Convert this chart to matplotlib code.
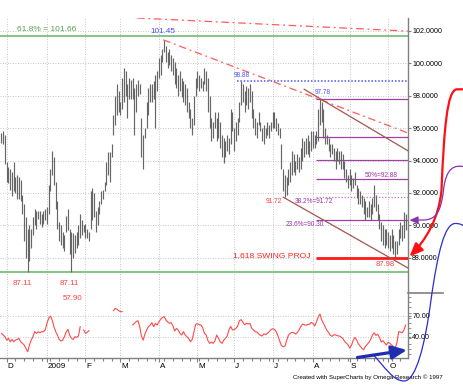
import numpy as np
import matplotlib.pyplot as plt
import matplotlib.ticker as mticker
import matplotlib.transforms as mtransforms
from matplotlib.path import Path
from matplotlib.patches import FancyArrowPatch, PathPatch
from matplotlib.lines import Line2D

plt.rcParams['font.family'] = ['Liberation Sans', 'DejaVu Sans']

W, H = 464, 388  # output size in pixels

# ---------------- data (bar index 0 = 1 Dec 2008, one bar per weekday) ----------------
first_bar = -3

bar_high = [
    95.7, 95.8, 95.6,
    # Dec
    93.9, 93.6, 93.5, 93.3, 93.9, 93.0, 93.1, 93.0, 92.8, 91.9, 91.3, 90.5, 89.8, 90.0, 89.8, 90.5,
    91.0, 90.9, 90.9, 90.9, 90.7, 90.9, 91.0,
    # Jan
    91.1, 92.5, 93.5, 94.6, 94.2, 92.7, 91.5, 90.2, 90.0, 89.6, 89.4, 90.6, 91.0, 89.8, 89.6, 89.5,
    89.4, 89.6, 90.0, 90.7, 90.3, 90.0,
    # Feb
    90.1, 89.8, 89.6, 92.1, 92.3, 92.0, 90.9, 91.1, 91.5, 92.1, 92.2, 92.7, 93.9, 94.5, 94.5, 95.0,
    96.8, 98.0, 98.7, 98.3,
    # Mar
    97.6, 99.1, 99.7, 99.5, 98.7, 99.1, 99.0, 99.1, 98.5, 98.7, 99.0, 98.7, 96.6, 95.6, 96.0, 97.6,
    98.5, 98.7, 98.7, 98.9, 99.3, 99.5,
    # Apr
    100.3, 100.5, 100.9, 101.45, 101.1, 100.7, 100.9, 100.5, 100.3, 100.1, 99.7, 99.3, 99.5, 99.1,
    98.9, 98.7, 98.5, 97.6, 97.2, 96.6, 98.0, 99.1,
    # May
    99.5, 99.3, 99.1, 98.9, 99.7, 99.5, 99.1, 98.0, 96.6, 96.4, 97.0, 96.6, 97.0, 96.4, 95.6, 95.4,
    95.2, 95.6, 95.4, 97.2, 97.0,
    # Jun
    96.0, 96.4, 96.6, 97.6, 98.88, 98.7, 98.3, 98.6, 98.5, 98.7, 98.3, 97.2, 96.6, 96.4, 97.0, 96.4,
    96.0, 96.2, 96.0, 96.4, 96.2, 96.4,
    # Jul
    97.0, 97.0, 96.6, 96.3, 96.0, 95.0, 93.5, 93.1, 93.0, 93.5, 93.9, 94.6, 94.4, 94.0, 94.4, 94.2,
    94.8, 95.4, 95.2, 95.4, 95.6, 95.2, 95.8,
    # Aug
    95.8, 95.6, 95.8, 97.2, 97.78, 97.6, 97.2, 96.0, 95.6, 95.4, 95.0, 95.0, 94.8, 94.6, 94.8, 94.6,
    94.6, 94.4, 94.0, 93.5, 93.1,
    # Sep
    93.5, 93.1, 92.9, 93.3, 92.5, 92.3, 92.1, 91.9, 91.7, 91.5, 91.1, 91.5, 91.3, 91.7, 92.5, 91.9,
    91.3, 90.7, 90.2, 90.0, 89.8, 89.8,
    # Oct
    89.6, 89.4, 89.8, 89.4, 89.0, 89.0, 89.8, 90.2, 90.0, 90.8, 90.7,
]

bar_low = [
    95.1, 95.0, 93.8,
    # Dec
    92.7, 92.6, 92.2, 91.8, 92.1, 92.0, 91.6, 91.6, 91.5, 90.7, 89.0, 88.0, 87.11, 87.8, 88.6, 89.4,
    90.0, 89.8, 90.4, 90.1, 89.9, 90.1, 90.3,
    # Jan
    90.1, 90.7, 92.1, 93.1, 92.5, 91.0, 89.8, 89.0, 88.8, 88.6, 88.4, 89.6, 89.7, 88.2, 87.11, 88.0,
    88.3, 88.6, 88.8, 89.2, 89.4, 89.6,
    # Feb
    89.2, 89.2, 89.0, 89.8, 90.3, 90.5, 89.6, 90.0, 90.7, 91.3, 91.6, 92.1, 92.5, 93.1, 92.7, 94.2,
    95.6, 96.2, 96.8, 97.0,
    # Mar
    96.8, 97.2, 97.6, 98.0, 96.6, 97.8, 97.8, 97.8, 95.6, 97.0, 98.0, 98.1, 94.2, 93.5, 95.4, 96.0,
    96.8, 97.6, 97.6, 97.8, 96.0, 98.3,
    # Apr
    99.1, 99.3, 100.1, 100.7, 100.1, 99.7, 99.9, 99.5, 99.3, 98.7, 98.5, 98.0, 98.3, 97.9, 97.6,
    97.4, 97.0, 96.6, 96.0, 95.6, 96.2, 98.0,
    # May
    98.5, 98.3, 98.5, 98.3, 98.7, 98.3, 97.0, 96.0, 95.2, 95.4, 96.0, 95.2, 95.4, 94.8, 94.2, 93.85,
    94.2, 94.6, 94.4, 95.0, 95.8,
    # Jun
    94.6, 95.2, 95.6, 96.4, 97.4, 97.6, 97.0, 97.4, 97.2, 97.6, 96.6, 96.0, 95.6, 95.4, 96.2, 95.8,
    95.2, 95.0, 95.4, 95.6, 95.4, 95.8,
    # Jul
    96.0, 96.0, 95.8, 95.6, 95.4, 93.5, 92.1, 91.72, 91.9, 92.5, 92.7, 93.1, 93.3, 93.1, 93.5, 93.3,
    93.5, 94.0, 94.2, 94.4, 94.4, 94.2, 94.6,
    # Aug
    94.8, 94.8, 95.0, 95.2, 96.2, 96.4, 95.4, 95.0, 95.0, 94.6, 94.2, 94.4, 94.0, 93.5, 94.0, 93.8,
    93.5, 93.5, 92.9, 92.7, 92.3,
    # Sep
    92.5, 92.1, 92.3, 92.5, 91.7, 91.3, 91.3, 91.1, 90.7, 90.3, 90.5, 90.5, 90.3, 90.7, 91.1, 90.9,
    90.3, 89.8, 89.0, 88.8, 88.6, 88.8,
    # Oct
    88.6, 88.4, 88.6, 88.2, 87.98, 88.2, 88.8, 89.2, 89.0, 89.2, 89.7,
]

# oscillator in the lower pane (None = hidden behind label boxes)
osc = [
    44.8, 42.4, 40.0,
    35.0, 37.6, 32.7, 36.0, 32.7, 35.0, 36.0, 37.6, 32.7, 30.3, 27.9, 23.0, 18.2, 27.9, 35.0, 40.0,
    47.3, 44.8, 47.3, 45.8, 47.3, 47.3, 49.7,
    59.4, 66.6, 70.0, 64.0, 54.5, 47.3, 42.4, 36.0, 33.7, 35.0, 40.0, 47.3, 50.6, 42.0, 37.6, 36.0,
    40.0, 39.0, 41.0, 54.5, None, 49.7,
    44.8, 46.3, 48.7, None, None, None, None, None, None, None, None, None, None, None, None, None,
    77.7, 81.1, 79.7, 77.7,
    76.3, 76.3, None, None, None, None, None, 57.0, 59.4, 61.8, 63.2, 54.5, 41.0, 35.0, 44.0, 49.7,
    54.5, 56.9, 60.3, 54.5, 59.4, 56.9,
    61.8, 65.2, 68.0, 69.0, 64.2, 61.3, 59.4, 60.3, 55.5, 48.2, 52.1, 49.7, 44.8, 42.4, 47.3, 42.4,
    40.0, 37.0, 32.7, 36.0, 47.3, 57.9,
    58.9, 57.4, 56.9, 53.0, 44.8, 42.4, 34.2, 30.3, 32.2, 30.3, 34.2, 42.4, 37.6, 32.7, 30.3, 35.0,
    37.6, 41.0, 50.0, 55.0, 49.7,
    50.6, 52.0, 55.5, 63.2, 64.7, 60.8, 57.4, 59.4, 58.4, 59.4, 52.1, 49.7, 47.3, 46.8, 43.9, 41.9,
    41.0, 44.3, 42.9, 44.8, 47.3, 50.2,
    51.6, 50.6, 47.3, 41.0, 33.7, 26.9, 25.5, 26.4, 35.0, 42.4, 44.8, 46.3, 45.8, 43.9, 45.8, 49.7,
    54.5, 58.4, 57.4, 56.4, 57.9, 57.9, 60.8,
    59.4, 55.5, 61.3, 68.5, 72.9, 64.2, 59.4, 54.0, 49.2, 45.8, 41.9, 40.5, 42.9, 42.4, 41.4, 41.0,
    39.5, 37.6, 33.7, 30.8, 28.4,
    23.5, 27.4, 34.7, 39.0, 35.0, 29.3, 26.4, 23.0, 21.1, 26.0, 28.9, 31.8, 36.1, 42.4, 45.8, 41.9,
    43.4, 39.0, 32.2, 34.2, 30.8, 27.9,
    32.2, 30.3, 27.9, 25.5, 23.5, 31.3, 47.3, 46.8, 45.8, 49.7, 56.9,
]

month_start = [0, 23, 45, 65, 87, 109, 130, 152, 175, 196, 218]
month_label = ['D', '2009', 'F', 'M', 'A', 'M', 'J', 'J', 'A', 'S', 'O']

price_ticks = [88, 90, 92, 94, 96, 98, 100, 102]
osc_ticks = [40, 70]

green_levels = [101.66, 87.11]
blue_level = 98.88
fib_solid = [97.78, 95.47, 94.04, 92.88, 90.30]
fib_dotted = 91.72
swing_proj = 88.0

# trend lines as (bar index, price) end points
red_fan = [((89.5, 101.45), (229.3, 95.7)), ((74.5, 102.8), (229.3, 101.99))]
brown_channel = [((170.0, 98.4), (229.3, 94.6)), ((158.1, 91.73), (229.5, 87.35))]

# ---------------- figure ----------------
fig = plt.figure(figsize=(W / 100, H / 100), dpi=100)


def fb(py):
    return 1 - py / H


ax = fig.add_axes([0, fb(292), 408 / W, fb(18) - fb(292)])
axo = fig.add_axes([0, fb(358), 408 / W, fb(292) - fb(358)])

xlim = (-3.83, 229.31)
xs = np.arange(first_bar, first_bar + len(bar_high))
grid_kw = dict(color='#b4b4b4', lw=0.6, ls=(0, (1, 2)))
spine_c = '#808080'

for a in (ax, axo):
    a.set_xlim(*xlim)
    for s in ('top', 'left'):
        a.spines[s].set_visible(False)
    a.spines['right'].set_color(spine_c)
    a.spines['right'].set_linewidth(1.0)
    a.set_xticks(month_start)
    a.xaxis.grid(True, **grid_kw)
    a.yaxis.grid(True, **grid_kw)
    a.yaxis.tick_right()
    a.tick_params(axis='y', which='both', colors=spine_c, labelcolor='black',
                  labelsize=5.1, length=2, pad=1)
    a.set_axisbelow(True)

# price pane
ax.spines['bottom'].set_visible(False)
ax.tick_params(axis='x', bottom=False, labelbottom=False)
ax.set_ylim(85.88, 102.8)
ax.set_yticks(price_ticks)
ax.yaxis.set_major_formatter(mticker.FormatStrFormatter('%.4f'))

ax.vlines(xs, bar_low, bar_high, color='#666666', lw=0.85, zorder=3)

for lv in green_levels:
    ax.axhline(lv, color='#6fbb6f', lw=1.2, zorder=2)

ax.hlines(blue_level, 131.6, xlim[1], color='#5050ff', lw=1.1, ls=(0, (1, 1.2)), zorder=2)
ax.hlines(fib_solid, 176.7, xlim[1], color='#a040a8', lw=0.9, zorder=2)
ax.hlines(fib_dotted, 176.7, xlim[1], color='#c070c8', lw=0.9, ls=(0, (1, 1.5)), zorder=2)
ax.hlines(swing_proj, 176.7, xlim[1], color='#ff1a1a', lw=2.0, zorder=4)

for (x0, y0), (x1, y1) in red_fan:
    ax.plot([x0, x1], [y0, y1], color='#ff5a5a', lw=0.9, ls=(0, (6, 3, 1.5, 3)), zorder=4)
for (x0, y0), (x1, y1) in brown_channel:
    ax.plot([x0, x1], [y0, y1], color='#a5554c', lw=0.9, zorder=4)

txt = dict(zorder=5, va='center', ha='left')
ax.text(5.9, 102.07, '61.8% = 101.66', color='#55a055', fontsize=6, **txt)
ax.text(89.0, 101.99, '101.45', color='#4a4aff', fontsize=5.9, zorder=5, va='center', ha='center')
ax.text(129.9, 99.28, '98.88', color='#5050ff', fontsize=4.7, **txt)
ax.text(176.2, 98.17, '97.78', color='#5050ff', fontsize=4.7, **txt)
ax.text(204.7, 93.10, '50%=92.88', color='#9933a8', fontsize=4.7, **txt)
ax.text(164.7, 91.46, '38.2%=91.72', color='#9933a8', fontsize=4.7, **txt)
ax.text(159.6, 90.02, '23.6%=90.30', color='#9933a8', fontsize=4.7, **txt)
ax.text(148.2, 91.46, '91.72', color='#ff4040', fontsize=4.8, **txt)
ax.text(129.3, 88.10, '1.618 SWING PROJ', color='#ff2020', fontsize=6.1, **txt)
ax.text(211.0, 87.55, '87.98', color='#ff4040', fontsize=5.5, **txt)
ax.text(3.6, 86.41, '87.11', color='#ff4040', fontsize=5.7, **txt)
ax.text(30.5, 86.41, '87.11', color='#ff4040', fontsize=5.7, **txt)

# oscillator pane
axo.set_ylim(9.1, 104.8)
axo.set_yticks(osc_ticks)
axo.yaxis.set_minor_locator(mticker.MultipleLocator(7.5))
axo.yaxis.set_major_formatter(mticker.FormatStrFormatter('%.2f'))
axo.spines['bottom'].set_color(spine_c)
axo.spines['bottom'].set_linewidth(1.0)
axo.set_xticklabels([])
axo.xaxis.set_minor_locator(mticker.FixedLocator(list(range(-5, 230, 5))))
axo.tick_params(axis='x', which='major', colors=spine_c, length=3, width=0.8)
axo.tick_params(axis='x', which='minor', colors=spine_c, length=1.8, width=0.8)

osc_arr = np.array([np.nan if v is None else v for v in osc], dtype=float)
axo.plot(xs, osc_arr, color='#ff4a4a', lw=0.8, zorder=3)
axo.text(32.2, 96.1, '57.90', color='#ff4040', fontsize=5.7, **txt)

lab_tr = mtransforms.blended_transform_factory(axo.transData, fig.transFigure)
for m, lab in zip(month_start, month_label):
    axo.text(m + 0.6, fb(367), lab, transform=lab_tr, fontsize=5.9, ha='left', va='center',
             clip_on=False)

# ---------------- hand-drawn annotations outside the pane (figure pixels) ----------------
pix = mtransforms.Affine2D().scale(1 / W, -1 / H).translate(0, 1) + fig.transFigure

fig.add_artist(Line2D([408, 443], [293, 293], color=spine_c, lw=1.2, transform=pix))

C4, L, M = Path.CURVE4, Path.LINETO, Path.MOVETO
red_path = Path([(464.5, 89.3), (457, 89.3), (447, 89.5), (444, 130), (441.5, 190),
                 (439, 218), (426, 240), (409.5, 256.5)],
                [M, L, C4, C4, C4, C4, C4, C4])
fig.add_artist(FancyArrowPatch(path=red_path, transform=pix, color='#ff1010', lw=1.6,
                               arrowstyle='-|>,head_length=8,head_width=3.4', mutation_scale=1,
                               zorder=6))

purple_path = Path([(464.5, 166.8), (454, 164.5), (446, 168), (443.5, 190),
                    (441, 212), (436, 219.5), (424, 220), (409.5, 220.2)],
                   [M, C4, C4, C4, C4, C4, C4, L])
fig.add_artist(FancyArrowPatch(path=purple_path, transform=pix, color='#8a30b0', lw=0.9,
                               arrowstyle='-|>,head_length=5,head_width=2.2', mutation_scale=1,
                               zorder=6))

blue_path = Path([(372.5, 354), (385, 367), (393, 381), (404, 381),
                  (416, 381), (425, 345), (431, 300),
                  (438, 250), (445, 224), (455, 223.5),
                  (459, 223.3), (462, 224.5), (464.5, 226.5)],
                 [M, C4, C4, C4, C4, C4, C4, C4, C4, C4, C4, C4, C4])
fig.add_artist(PathPatch(blue_path, transform=pix, fill=False, edgecolor='#2b2bd0', lw=0.9,
                         zorder=6))

fig.add_artist(FancyArrowPatch((357.5, 357.5), (407, 350), transform=pix, color='#1f2eb0',
                               lw=2.3, arrowstyle='-|>,head_length=9,head_width=4',
                               mutation_scale=1, shrinkA=0, shrinkB=0, zorder=6))

fig.text(293 / W, fb(377), 'Created with SuperCharts by Omega Research \u00a9 1997',
         fontsize=4.4, ha='left', va='center')

fig.savefig('out.png', dpi=100)
